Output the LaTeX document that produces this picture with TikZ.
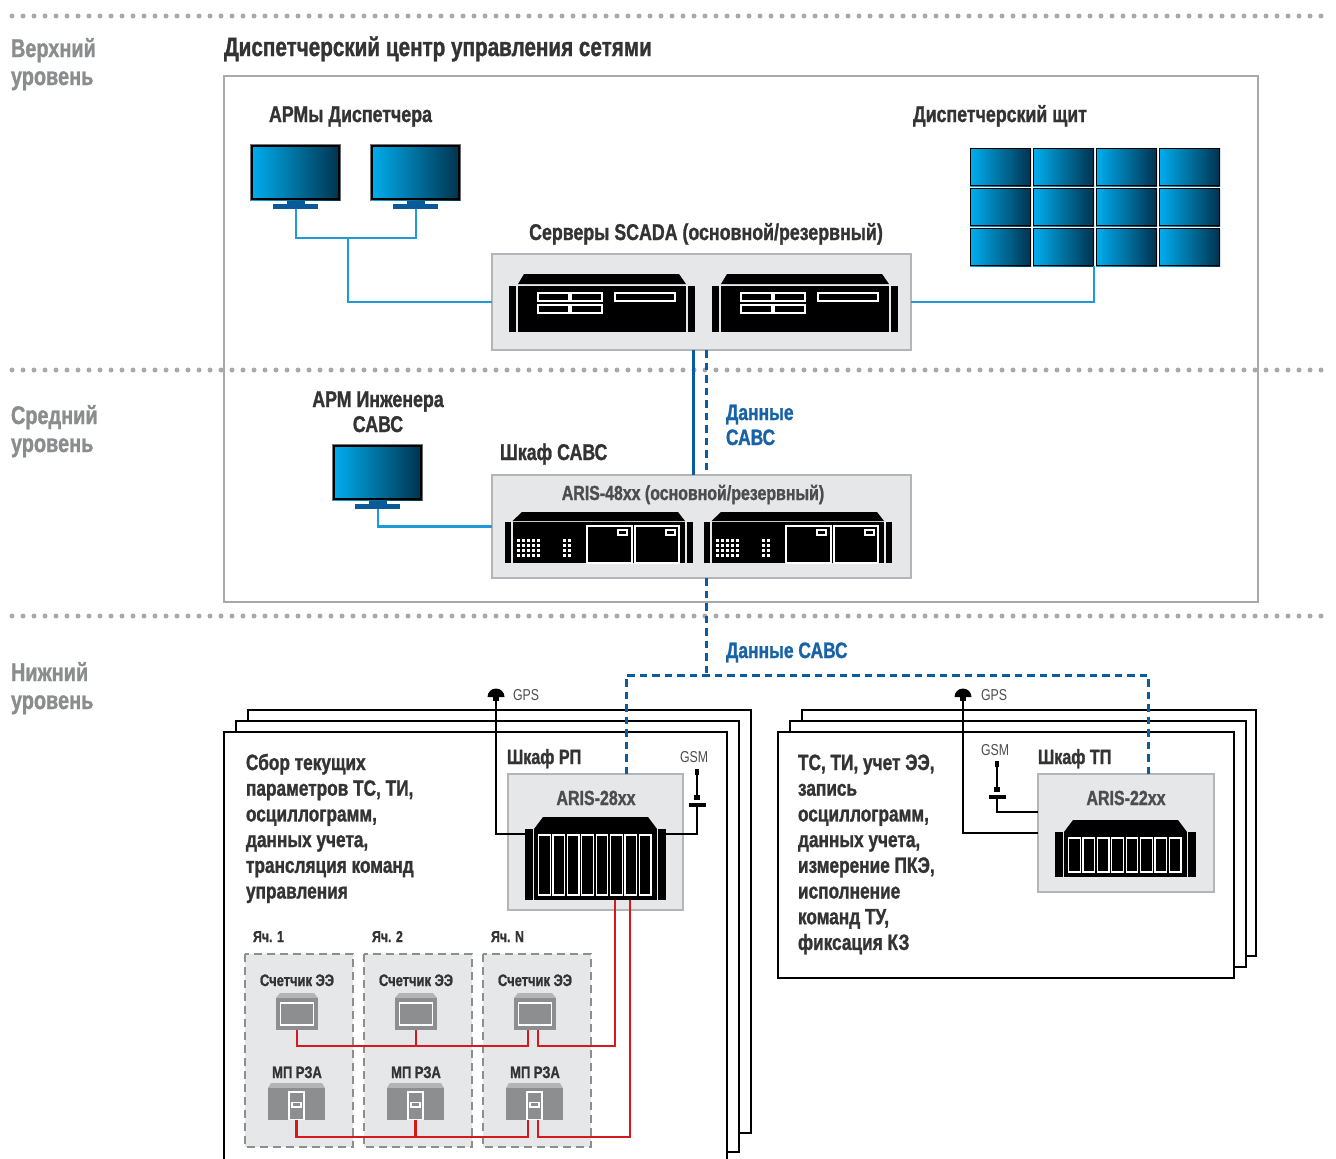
\documentclass[tikz,border=0pt]{standalone}
\usepackage{fontspec}
\setmainfont{Liberation Sans}[FakeStretch=0.78, BoldFeatures={FakeBold=1.2}]
\usetikzlibrary{calc}
\definecolor{lvlgray}{HTML}{8A8C8E}
\definecolor{ink}{HTML}{333333}
\definecolor{inkmid}{HTML}{4D4D4D}
\definecolor{boxline}{HTML}{A7A9AC}
\definecolor{panelline}{HTML}{B3B5B8}
\definecolor{boxfill}{HTML}{E6E7E8}
\definecolor{dotgray}{HTML}{A7A9AC}
\definecolor{cable}{HTML}{1E9AD6}
\definecolor{navy}{HTML}{0B5C9E}
\definecolor{datablue}{HTML}{1763A6}
\definecolor{scrL}{HTML}{00AEEF}
\definecolor{scrR}{HTML}{00324D}
\definecolor{standblue}{HTML}{0A5A9A}
\definecolor{redline}{HTML}{D7191F}
\definecolor{icongray}{HTML}{8C8E90}
\definecolor{iconlight}{HTML}{B2B4B6}
\definecolor{cellline}{HTML}{8C8E90}
\begin{document}
\begin{tikzpicture}[x=1pt,y=-1pt,
  every node/.style={inner sep=0pt, outer sep=0pt},
  lvl/.style={anchor=base west, text=lvlgray, font=\bfseries\fontsize{25.5}{28}\selectfont},
  ttl/.style={anchor=base west, text=ink, font=\bfseries\fontsize{26.5}{28}\selectfont},
  hdr/.style={text=ink, font=\bfseries\fontsize{22.8}{25}\selectfont},
  arislbl/.style={anchor=base, text=inkmid, font=\bfseries\fontsize{20.5}{23}\selectfont},
  datalbl/.style={anchor=base west, text=datablue, font=\bfseries\fontsize{22.3}{25}\selectfont},
  bodytext/.style={anchor=base west, text=ink, font=\bfseries\fontsize{22.1}{25}\selectfont},
  cabinet/.style={anchor=base west, text=ink, font=\bfseries\fontsize{20.7}{23}\selectfont},
  cellttl/.style={anchor=base, text=ink, font=\bfseries\fontsize{16.6}{18}\selectfont},
  celllbl/.style={anchor=base west, text=ink, font=\bfseries\fontsize{15.8}{18}\selectfont},
  antlbl/.style={anchor=base west, text=inkmid, font=\fontsize{15.8}{18}\selectfont},
  panel/.style={draw=panelline, fill=boxfill, line width=1.6pt, anchor=north west},
  levelrule/.style={dotgray, line width=5pt, line cap=round, dash pattern=on 0pt off 11pt},
  cablelink/.style={cable, line width=2.6pt},
  datalink/.style={navy, line width=3pt},
  datadash/.style={navy, line width=3pt, dash pattern=on 7.5pt off 5pt},
  wire/.style={black, line width=2.5pt},
  redlink/.style={redline, line width=2.6pt},
  sheet/.style={draw=black, fill=white, line width=2.6pt},
  cellbox/.style={draw=cellline, fill=boxfill, line width=2.6pt, dash pattern=on 8pt off 5pt},
  pics/monitor/.style={code={
    \fill[black!55] (-0.8,-0.8) rectangle (89.8,55.8);
    \shade[left color=scrL, right color=scrR] (0,0) rectangle (89,55);
    \draw[black, line width=1.6pt] (0.8,0.8) rectangle (88.2,54.2);
    \fill[standblue] (36,55.8) rectangle (54,60);
    \fill[standblue] (22,59) rectangle (67,64);
    \coordinate (-base) at (45,64);
  }},
  pics/server/.style={code={
    \fill (0,0) rectangle (7,46);
    \fill (9,0) rectangle (177,46);
    \fill (9,-2) -- (15,-12) -- (170,-12) -- (177,-2) -- cycle;
    \fill (179,0) rectangle (186,46);
    \draw[white, line width=1.2pt] (29,7) rectangle (60,15) (62,7) rectangle (93,15)
      (29,19) rectangle (60,27) (62,19) rectangle (93,27) (106,7) rectangle (166,15);
  }},
  pics/aris48/.style={code={
    \fill (0,0) rectangle (6,41);
    \fill (7.5,0) rectangle (180,41);
    \fill (7.5,-1) -- (17,-10) -- (173,-10) -- (180,-1) -- cycle;
    \fill (181.5,0) rectangle (188,41);
    \foreach \c in {0,...,4}{\foreach \r in {0,...,3}{\fill[white] (12+5*\c,17+5*\r) rectangle ++(3.4,3.4);}}
    \foreach \c in {0,1}{\foreach \r in {0,...,3}{\fill[white] (58+5*\c,17+5*\r) rectangle ++(3.4,3.4);}}
    \draw[white, line width=1.2pt] (82,4) rectangle (127,41) (130,4) rectangle (174,41)
      (113,8) rectangle (122,13) (161,8) rectangle (170,13);
  }},
  pics/rack/.style={code={
    \fill (0,0) rectangle (8,#1);
    \fill (9,0) rectangle (132,#1);
    \fill (9,0) -- (18,-12) -- (123,-12) -- (132,0) -- cycle;
    \fill (133,0) rectangle (141,#1);
    \foreach \k in {0,...,7}{\draw[white, line width=1.2pt] (13.6+14.4*\k,6) rectangle ++(11.6,#1-11);}
    \coordinate (-left) at (0,5);
    \coordinate (-right) at (141,5);
    \coordinate (-out1) at (90,#1);
    \coordinate (-out2) at (105,#1);
  }},
  pics/meter/.style={code={
    \fill[iconlight] (0,0) -- (4,-5) -- (38,-5) -- (42,0) -- cycle;
    \fill[icongray] (0,0) rectangle (42,32);
    \draw[white, line width=1.1pt] (4.5,5) rectangle (37.5,27);
    \coordinate (-bot) at (21,32);
  }},
  pics/relay/.style={code={
    \fill[iconlight] (0,0) -- (3,-5) -- (54,-5) -- (57,0) -- cycle;
    \fill[icongray] (0,0) rectangle (57,32);
    \draw[white, line width=1.1pt] (21,4) rectangle (36,31.5) (24,14.5) rectangle (33,19);
    \coordinate (-bot) at (28.5,32);
  }},
  pics/gps/.style={code={
    \fill (-8.5,9) arc[start angle=180, end angle=360, radius=8.5] -- cycle;
    \fill (-3,9) rectangle (3,12.5);
    \coordinate (-foot) at (0,12.5);
  }},
  pics/gsm/.style={code={
    \fill (-2,0) rectangle (2,6);
    \fill (-0.8,6) rectangle (0.8,26);
    \fill (-3,26) rectangle (3,31);
    \fill (-8.5,34) rectangle (8.5,38);
    \coordinate (-foot) at (0,38);
  }}
]
\useasboundingbox (0,0) rectangle (1336,1159);

% ---------- level separators and level names ----------
\draw[levelrule] (12,16) -- (1330,16);
\draw[levelrule] (12,370) -- (1330,370);
\draw[levelrule] (12,616) -- (1330,616);

\node[lvl] (lvtop1) at (11,57) {Верхний};
\node[lvl] (lvtop2) at (11,85) {уровень};
\node[lvl] (lvmid1) at (11,424) {Средний};
\node[lvl] (lvmid2) at (11,452) {уровень};
\node[lvl] (lvlow1) at (11,681) {Нижний};
\node[lvl] (lvlow2) at (11,709) {уровень};

% ---------- control centre ----------
\node[ttl] (dctitle) at (224,56) {Диспетчерский центр управления сетями};
\node[draw=boxline, line width=2.6pt, minimum width=1034pt, minimum height=526pt, anchor=north west] (dcbox) at (224,76) {};

\node[hdr, anchor=base west] (armhdr) at (269,122) {АРМы Диспетчера};
\node[hdr, anchor=base west] (wallhdr) at (913,122) {Диспетчерский щит};
\node[hdr, anchor=base] (srvhdr) at (706,240) {Серверы SCADA (основной/резервный)};

\pic (mon1) at (251,145) {monitor};
\pic (mon2) at (371,145) {monitor};

% video wall
\foreach \i in {0,...,3}{\foreach \j in {0,1,2}{
  \shade[left color=scrL, right color=scrR] (970+63*\i,148+40*\j) rectangle ++(61,38);
  \draw[black, line width=1.3pt] (970.65+63*\i,148.65+40*\j) rectangle ++(59.7,36.7);
}}
\coordinate (wall) at (1094,266);

% SCADA servers
\node[panel, minimum width=419pt, minimum height=96pt] (srvbox) at (492,254) {};
\pic (srv1) at (509,286) {server};
\pic (srv2) at (712,286) {server};

\path (mon1-base) -- ++(0,29) coordinate (armbus);
\draw[cablelink] (mon1-base) -- (armbus) -| (mon2-base);
\draw[cablelink] ([xshift=52pt]armbus) |- (srvbox.west);
\draw[cablelink] (srvbox.east) -| (wall);

% engineer workstation and SAVS cabinet
\node[hdr, anchor=base] (enghdr1) at (378,407) {АРМ Инженера};
\node[hdr, anchor=base] (enghdr2) at (378,432) {САВС};
\pic (mon3) at (333,445) {monitor};
\node[hdr, anchor=base west] (savshdr) at (500,460) {Шкаф САВС};

\node[panel, minimum width=419pt, minimum height=103pt] (savsbox) at (492,475) {};
\node[arislbl, font=\bfseries\fontsize{20.4}{23}\selectfont] (aris48lbl) at (693,500) {ARIS-48xx (основной/резервный)};
\pic (dev1) at (505,522) {aris48};
\pic (dev2) at (704,522) {aris48};

\draw[cablelink] (mon3-base) |- (savsbox.west);

\draw[datalink] ([xshift=-8.5pt]srvbox.south) -- ([xshift=-8.5pt]savsbox.north);
\draw[datadash] ([xshift=4.5pt]srvbox.south) -- ([xshift=4.5pt]savsbox.north);
\node[datalbl] (data1a) at (726,420) {Данные};
\node[datalbl] (data1b) at (726,445) {САВС};

% ---------- lower level: stacked sheets ----------
\draw[sheet] (248,710) rectangle (751,1133);
\draw[sheet] (236,721) rectangle (739,1152);
\draw[sheet] (224,732) rectangle (727,1180);

\draw[sheet] (802,710) rectangle (1256,956);
\draw[sheet] (790,721) rectangle (1246,967);
\draw[sheet] (778,732) rectangle (1234,978);

\node[datalbl] (data2) at (726,658) {Данные САВС};

% RP cabinet
\node[cabinet] (rphdr) at (507,764) {Шкаф РП};
\node[panel, minimum width=175pt, minimum height=136pt] (rpbox) at (508,774) {};
\node[arislbl] (aris28lbl) at (596,805) {ARIS-28xx};
\pic (rk28) at (525,829) {rack=71};

% TP cabinet
\node[cabinet] (tphdr) at (1038,764) {Шкаф ТП};
\node[panel, minimum width=176pt, minimum height=118pt] (tpbox) at (1038,774) {};
\node[arislbl] (aris22lbl) at (1126,805) {ARIS-22xx};
\pic (rk22) at (1055,832) {rack=45};

% antennas
\pic (gpsL) at (496,688) {gps};
\node[antlbl] (gpsLlbl) at (513,700) {GPS};
\pic (gsmL) at (697,769) {gsm};
\node[antlbl] (gsmLlbl) at (680,762) {GSM};
\pic (gpsR) at (963,688) {gps};
\node[antlbl] (gpsRlbl) at (981,700) {GPS};
\pic (gsmR) at (997,761) {gsm};
\node[antlbl] (gsmRlbl) at (981,755) {GSM};

\draw[wire] (gpsL-foot) |- (rk28-left);
\draw[wire] (gsmL-foot) |- (rk28-right);
\draw[wire] (gpsR-foot) |- (tpbox.west);
\draw[wire] (gsmR-foot) |- ([yshift=21pt]tpbox.west);

% SAVS data bus to the cabinets
\draw[datadash] ([xshift=4.5pt]savsbox.south) -- ++(0,97) coordinate (busmid);
\draw[datadash] ([xshift=30.5pt]rpbox.north) |- (busmid) -| ([xshift=22pt]tpbox.north);

% function descriptions
\foreach \t [count=\k from 0] in {{Сбор текущих},{параметров ТС, ТИ,},{осциллограмм,},{данных учета,},{трансляция команд},{управления}}{
  \node[bodytext] (rpfn\k) at (246,770+25.7*\k) {\t};
}
\foreach \t [count=\k from 0] in {{ТС, ТИ, учет ЭЭ,},{запись},{осциллограмм,},{данных учета,},{измерение ПКЭ,},{исполнение},{команд ТУ,},{фиксация КЗ}}{
  \node[bodytext] (tpfn\k) at (798,770+25.7*\k) {\t};
}

% bays
\foreach \n/\lab in {0/1,1/2,2/N}{
  \node[celllbl] (baylbl\n) at (253+119*\n,942) {Яч. \lab};
  \draw[cellbox] (245+119*\n,954) rectangle ++(108,193);
  \node[cellttl] (eelbl\n) at (297+119*\n,986) {Счетчик ЭЭ};
  \node[cellttl] (rzlbl\n) at (297+119*\n,1078) {МП РЗА};
}
\pic (ee1) at (276,998) {meter};
\pic (ee2) at (395,998) {meter};
\pic (ee3) at (514,998) {meter};
\pic (rz1) at (268,1088) {relay};
\pic (rz2) at (387,1088) {relay};
\pic (rz3) at (506,1088) {relay};

% meter and relay interfaces
\draw[redlink] (ee1-bot) |- ($(ee3-bot)+(-7,16)$) -- ($(ee3-bot)+(-7,0)$);
\draw[redlink] (ee2-bot) -- ++(0,16);
\draw[redlink] ($(ee3-bot)+(3,0)$) -- ++(0,16) -| (rk28-out1);
\draw[redlink] (rz1-bot) |- ($(rz3-bot)+(-6.5,17)$) -- ($(rz3-bot)+(-6.5,0)$);
\draw[redlink] (rz2-bot) -- ++(0,17);
\draw[redlink] ($(rz3-bot)+(3.5,0)$) -- ++(0,17) -| (rk28-out2);
\end{tikzpicture}
\end{document}
